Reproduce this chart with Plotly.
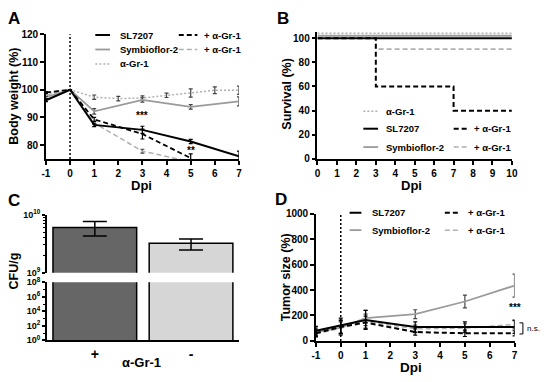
import plotly.graph_objects as go

W, H = 550, 382
def fx(p): return p / W
def fy(p): return 1 - p / H

FONT = "Liberation Sans"
BLACK = "#000000"
GRAY = "#9a9a9a"
LGRAY = "#b0b0b0"

# ---------------- Panel A: body weight ----------------
sl_days = [-1, 0, 1, 3, 5, 7]
sl_bw = [96.2, 100, 87.3, 85.5, 81.3, 76.0]
sl_bw_err = [0.5, 0, 0.6, 1.3, 0.8, 1.8]

sla_days = [-1, 0, 1, 3, 5]
sla_bw = [99.0, 100, 89.3, 84.0, 75.3]
sla_bw_err = [0.3, 0, 0.7, 1.8, 1.5]

sym_days = [-1, 0, 1, 3, 5, 7]
sym_bw = [97.3, 100, 92.2, 96.3, 93.8, 95.8]
sym_bw_err = [0.5, 0, 1.0, 0.8, 0.8, 1.6]

syma_days = [-1, 0, 1, 3, 5]
syma_bw = [98.0, 100, 88.0, 77.8, 74.0]
syma_bw_err = [0.4, 0, 0.5, 0.7, 0]

gr_days = [-1, 0, 1, 2, 3, 4, 5, 6, 7]
gr_bw = [98.5, 100, 97.3, 96.8, 97.0, 98.0, 98.8, 99.8, 99.8]
gr_bw_err = [0.5, 0, 0.8, 0.8, 0.8, 0.8, 1.5, 1.2, 1.5]

dpi_ticks = [-1, 0, 1, 2, 3, 4, 5, 6, 7]
dpi_ticklabels = ["-1", "0", "1", "2", "3", "4", "5", "6", "7"]

# ---------------- Panel B: survival ----------------
surv_sl_x, surv_sl = [0, 10], [100, 100]
surv_sla_x, surv_sla = [0, 3, 7, 10], [100, 60, 40, 40]
surv_sym_x, surv_sym = [0, 10], [102, 102]
surv_syma_x, surv_syma = [0, 3, 10], [100, 91, 91]
surv_gr_x, surv_gr = [0, 10], [104, 104]

# ---------------- Panel C: CFU ----------------
cfu_cats = ["+", "-"]
cfu_vals = [6.0e9, 3.2e9]
cfu_err_up = [1.6e9, 0.6e9]
cfu_err_dn = [1.7e9, 0.75e9]
cfu_colors = ["#666666", "#d6d6d6"]

# ---------------- Panel D: tumor size ----------------
tum_days = [-1, 0, 1, 3, 5, 7]
tum_sl = [80, 120, 165, 110, 110, 110]
tum_sl_err = [35, 60, 75, 40, 40, 50]
tum_sla = [60, 110, 145, 70, 60, 60]
tum_sla_err = [25, 50, 50, 25, 25, 20]
tum_sym = [70, 105, 180, 210, 310, 435]
tum_sym_err = [30, 60, 60, 35, 50, 90]
tum_syma = [55, 100, 155, 95, 100, 130]
tum_syma_err = [25, 50, 55, 30, 35, 35]

fig = go.Figure()

def line_trace(x, y, err, color, dash, width, xa, ya, shape="linear"):
    kw = dict(x=x, y=y, mode="lines", xaxis=xa, yaxis=ya, showlegend=False,
              line=dict(color=color, dash=dash, width=width, shape=shape),
              hoverinfo="skip")
    if err is not None:
        kw["error_y"] = dict(type="data", array=err, visible=True,
                             color=BLACK if color == BLACK else "#444444",
                             thickness=1.2, width=2)
    return go.Scatter(**kw)

DASH = "5px,3px"
# A
fig.add_trace(line_trace(gr_days, gr_bw, gr_bw_err, LGRAY, "2px,2px", 1.5, "x", "y"))
fig.add_trace(line_trace(sym_days, sym_bw, sym_bw_err, GRAY, "solid", 1.8, "x", "y"))
fig.add_trace(line_trace(syma_days, syma_bw, syma_bw_err, LGRAY, DASH, 1.5, "x", "y"))
fig.add_trace(line_trace(sla_days, sla_bw, sla_bw_err, BLACK, DASH, 1.8, "x", "y"))
fig.add_trace(line_trace(sl_days, sl_bw, sl_bw_err, BLACK, "solid", 2, "x", "y"))

# B
fig.add_trace(line_trace(surv_gr_x, surv_gr, None, LGRAY, "2px,2px", 1.5, "x2", "y2", "hv"))
fig.add_trace(line_trace(surv_syma_x, surv_syma, None, LGRAY, DASH, 1.8, "x2", "y2", "hv"))
fig.add_trace(line_trace(surv_sym_x, surv_sym, None, GRAY, "solid", 1.8, "x2", "y2", "hv"))
fig.add_trace(line_trace(surv_sl_x, surv_sl, None, BLACK, "solid", 2, "x2", "y2", "hv"))
fig.add_trace(line_trace(surv_sla_x, surv_sla, None, BLACK, DASH, 2, "x2", "y2", "hv"))

# C (broken axis: top and bottom segments)
for xa, ya, with_err in (("x3", "y3", True), ("x4", "y4", False)):
    kw = dict(x=cfu_cats, y=cfu_vals, xaxis=xa, yaxis=ya, width=0.87, showlegend=False,
              marker=dict(color=cfu_colors, line=dict(color=BLACK, width=1.5)), hoverinfo="skip")
    if with_err:
        kw["error_y"] = dict(type="data", array=cfu_err_up, arrayminus=cfu_err_dn, visible=True,
                             color=BLACK, thickness=1.5, width=12)
    fig.add_trace(go.Bar(**kw))

# D
fig.add_trace(line_trace(tum_days, tum_syma, tum_syma_err, LGRAY, DASH, 1.5, "x5", "y5"))
fig.add_trace(line_trace(tum_days, tum_sym, tum_sym_err, GRAY, "solid", 1.8, "x5", "y5"))
fig.add_trace(line_trace(tum_days, tum_sla, tum_sla_err, BLACK, DASH, 2, "x5", "y5"))
fig.add_trace(line_trace(tum_days, tum_sl, tum_sl_err, BLACK, "solid", 2, "x5", "y5"))

tickfont = dict(family=FONT, size=10, color=BLACK, weight="bold")
axc = dict(showline=True, linecolor=BLACK, linewidth=1.5, ticks="outside", ticklen=4,
           tickwidth=1.5, tickcolor=BLACK, showgrid=False, zeroline=False, tickfont=tickfont)

layout = dict(
    width=W, height=H, margin=dict(l=0, r=0, t=0, b=0),
    paper_bgcolor="white", plot_bgcolor="white",
    # A
    xaxis=dict(axc, domain=[fx(42.7), fx(239.3)], range=[-1, 7], tickvals=dpi_ticks,
               ticktext=dpi_ticklabels, anchor="y"),
    yaxis=dict(axc, domain=[fy(157.3), fy(28.3)], range=[75, 120], tickvals=[80, 90, 100, 110, 120], anchor="x"),
    # B
    xaxis2=dict(axc, domain=[fx(319.3), fx(517.3)], range=[0, 10], dtick=1, anchor="y2"),
    yaxis2=dict(axc, domain=[fy(157.3), fy(25.4)], range=[0, 105.5], tickvals=[0, 20, 40, 60, 80, 100], anchor="x2"),
    # C top
    xaxis3=dict(domain=[fx(43.5), fx(239.5)], range=[-0.5, 1.5], showline=False, showticklabels=False,
                ticks="", anchor="y3", type="category", showgrid=False, zeroline=False),
    yaxis3=dict(axc, domain=[fy(275), fy(215)], type="log", range=[9, 10], anchor="x3",
                tickvals=[1e9, 1e10], ticktext=["10<sup>9</sup>", "10<sup>10</sup>"],
                tickfont=dict(family=FONT, size=9, color=BLACK, weight="bold"), ticklen=3,
                minor=dict(tickvals=[k * 1e9 for k in range(2, 10)], ticks="outside", ticklen=2,
                           tickwidth=1, tickcolor=BLACK)),
    # C bottom
    xaxis4=dict(axc, domain=[fx(43.5), fx(239.5)], range=[-0.5, 1.5], type="category", ticks="",
                anchor="y4", tickfont=dict(family=FONT, size=14, color=BLACK, weight="bold")),
    yaxis4=dict(axc, domain=[fy(345), fy(285)], type="log", range=[0, 8], anchor="x4",
                tickvals=[1, 1e2, 1e4, 1e6, 1e8],
                ticktext=["10<sup>0</sup>", "10<sup>2</sup>", "10<sup>4</sup>", "10<sup>6</sup>", "10<sup>8</sup>"],
                tickfont=dict(family=FONT, size=9, color=BLACK, weight="bold"), ticklen=3,
                minor=dict(tickvals=[1e1, 1e3, 1e5, 1e7], ticks="outside", ticklen=2,
                           tickwidth=1, tickcolor=BLACK)),
    # D
    xaxis5=dict(axc, domain=[fx(317.7), fx(520)], range=[-1, 7], tickvals=dpi_ticks,
                ticktext=dpi_ticklabels, anchor="y5"),
    yaxis5=dict(axc, domain=[fy(345.7), fy(214)], range=[0, 1000], dtick=200, anchor="x5"),
)
fig.update_layout(**layout)

# dotted vertical lines at day 0
for xa, ya in (("x", "y"), ("x5", "y5")):
    fig.add_shape(type="line", xref=xa, yref=ya + " domain", x0=0, x1=0, y0=0, y1=1,
                  line=dict(color=BLACK, width=1.5, dash="2px,2px"))

annots = []
def txt(x, y, s, size=10, xanchor="left", angle=0, bold=True, xref="paper", yref="paper"):
    annots.append(dict(x=x, y=y, xref=xref, yref=yref, text=s, showarrow=False,
                       xanchor=xanchor, yanchor="middle", textangle=angle, borderpad=0,
                       font=dict(family=FONT, size=size, color=BLACK, weight="bold" if bold else "normal")))

# panel letters
txt(fx(3), fy(12), "A", 17)
txt(fx(277), fy(12), "B", 17)
txt(fx(3), fy(200), "C", 17)
txt(fx(275), fy(199), "D", 17)

# axis titles
txt(fx(140), fy(185), "Dpi", 13, "center")
txt(fx(10), fy(92), "Body weight (%)", 12.5, "center", -90)
txt(fx(288), fy(90), "Survival (%)", 12.5, "center", -90)
txt(fx(415), fy(185), "Dpi", 13, "center")
txt(fx(10), fy(273), "CFU/g", 12.5, "center", -90)
txt(fx(140), fy(368), "α-Gr-1", 13, "center")
txt(fx(288), fy(280), "Tumor size (%)", 12.5, "center", -90)
txt(fx(415), fy(373), "Dpi", 13.5, "center")

# significance marks
txt(3, 90.8, "***", 10, "center", xref="x", yref="y")
txt(5, 78.0, "**", 10, "center", xref="x", yref="y")
txt(7, 262, "***", 10, "center", xref="x5", yref="y5")
txt(fx(532), fy(333), "n.s.", 8, "left", bold=False)
fig.add_shape(type="path", xref="paper", yref="paper",
              path=f"M {fx(525)} {fy(327)} L {fx(528.5)} {fy(327)} L {fx(528.5)} {fy(338.5)} L {fx(525)} {fy(338.5)}",
              line=dict(color=BLACK, width=1))

# manual legends
def leg(x0, x1, xt, y, color, dash, width, label):
    fig.add_shape(type="line", xref="paper", yref="paper", x0=fx(x0), x1=fx(x1), y0=fy(y), y1=fy(y),
                  line=dict(color=color, dash=dash, width=width))
    txt(fx(xt), fy(y), label, 9.5)

# A legend
leg(93, 108, 117, 29, BLACK, "solid", 2, "SL7207")
leg(178, 197, 203, 29, BLACK, DASH, 2, "+ α-Gr-1")
leg(93, 108, 117, 44, GRAY, "solid", 1.8, "Symbioflor-2")
leg(178, 197, 203, 44, LGRAY, DASH, 1.5, "+ α-Gr-1")
leg(93, 108, 117, 59, LGRAY, "2px,2px", 1.5, "α-Gr-1")
# B legend
leg(366, 381, 388, 108, LGRAY, "2px,2px", 1.5, "α-Gr-1")
leg(366, 381, 388, 126, BLACK, "solid", 2, "SL7207")
leg(458, 474, 478, 126, BLACK, DASH, 2, "+ α-Gr-1")
leg(366, 381, 388, 145, GRAY, "solid", 1.8, "Symbioflor-2")
leg(458, 474, 478, 145, LGRAY, DASH, 1.5, "+ α-Gr-1")
# D legend
leg(352, 364, 374, 213, BLACK, "solid", 2, "SL7207")
leg(449, 465, 472, 213, BLACK, DASH, 2, "+ α-Gr-1")
leg(352, 364, 374, 231, GRAY, "solid", 1.8, "Symbioflor-2")
leg(449, 465, 472, 231, LGRAY, DASH, 1.5, "+ α-Gr-1")

fig.update_layout(annotations=annots)
fig.write_html("out.html", config={"displayModeBar": False},
               post_script="document.body.style.margin='0';document.body.style.padding='0';"
                           "document.body.style.overflow='hidden';")
